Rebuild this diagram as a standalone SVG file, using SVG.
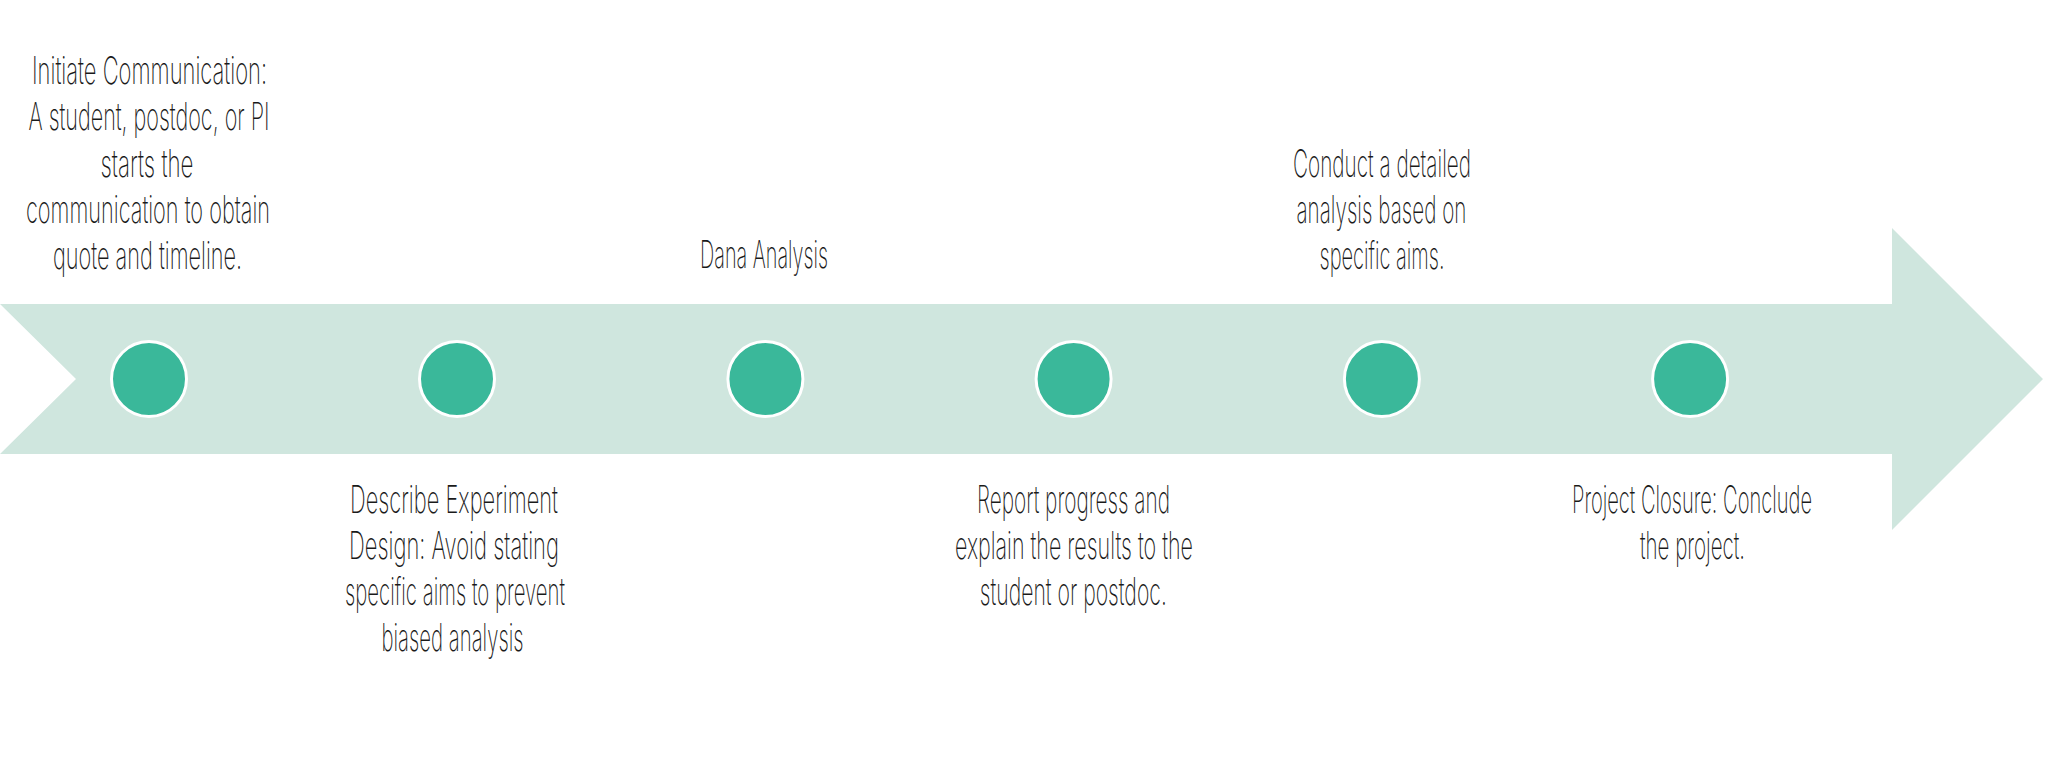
<svg xmlns="http://www.w3.org/2000/svg" width="2048" height="760" viewBox="0 0 2048 760">
  <style>
    .band { fill: #cfe6de; }
    .dot { fill: #3ab89a; stroke: #ffffff; stroke-width: 3; }
    .lbl { font-family: Inter, Roboto, "Liberation Sans", sans-serif; font-weight: 200; font-size: 38px; fill: #1a1a1a; text-anchor: middle; }
  </style>
  <rect width="2048" height="760" fill="#ffffff"/>
  <g id="connectors">
    <polygon class="band" points="0,304 1892,304 1892,228 2043,379 1892,530 1892,454 0,454 76,379"/>
  </g>
  <g id="node1">
    <circle class="dot" cx="149" cy="379" r="37.5"/>
    <text class="lbl" x="149.5" y="83.5" textLength="235" lengthAdjust="spacingAndGlyphs">Initiate Communication:</text>
    <text class="lbl" x="149" y="130" textLength="241" lengthAdjust="spacingAndGlyphs">A student, postdoc, or PI</text>
    <text class="lbl" x="147" y="176.5" textLength="93" lengthAdjust="spacingAndGlyphs">starts the</text>
    <text class="lbl" x="148" y="222.5" textLength="244" lengthAdjust="spacingAndGlyphs">communication to obtain</text>
    <text class="lbl" x="147.5" y="268.5" textLength="189" lengthAdjust="spacingAndGlyphs">quote and timeline.</text>
  </g>
  <g id="node2">
    <circle class="dot" cx="457" cy="379" r="37.5"/>
    <text class="lbl" x="454" y="513" textLength="208" lengthAdjust="spacingAndGlyphs">Describe Experiment</text>
    <text class="lbl" x="454" y="559" textLength="210" lengthAdjust="spacingAndGlyphs">Design: Avoid stating</text>
    <text class="lbl" x="455" y="605" textLength="220" lengthAdjust="spacingAndGlyphs">specific aims to prevent</text>
    <text class="lbl" x="452.5" y="651" textLength="142" lengthAdjust="spacingAndGlyphs">biased analysis</text>
  </g>
  <g id="node3">
    <circle class="dot" cx="765.4" cy="379" r="37.5"/>
    <text class="lbl" x="764" y="268" textLength="128" lengthAdjust="spacingAndGlyphs">Dana Analysis</text>
  </g>
  <g id="node4">
    <circle class="dot" cx="1073.6" cy="379" r="37.5"/>
    <text class="lbl" x="1073.5" y="513" textLength="193" lengthAdjust="spacingAndGlyphs">Report progress and</text>
    <text class="lbl" x="1074" y="559" textLength="238" lengthAdjust="spacingAndGlyphs">explain the results to the</text>
    <text class="lbl" x="1073.3" y="605" textLength="187" lengthAdjust="spacingAndGlyphs">student or postdoc.</text>
  </g>
  <g id="node5">
    <circle class="dot" cx="1381.9" cy="379" r="37.5"/>
    <text class="lbl" x="1382" y="176.5" textLength="178" lengthAdjust="spacingAndGlyphs">Conduct a detailed</text>
    <text class="lbl" x="1381.5" y="222.5" textLength="170" lengthAdjust="spacingAndGlyphs">analysis based on</text>
    <text class="lbl" x="1382" y="268.5" textLength="125" lengthAdjust="spacingAndGlyphs">specific aims.</text>
  </g>
  <g id="node6">
    <circle class="dot" cx="1690.1" cy="379" r="37.5"/>
    <text class="lbl" x="1692" y="513" textLength="240" lengthAdjust="spacingAndGlyphs">Project Closure: Conclude</text>
    <text class="lbl" x="1692.5" y="559" textLength="105" lengthAdjust="spacingAndGlyphs">the project.</text>
  </g>
</svg>
